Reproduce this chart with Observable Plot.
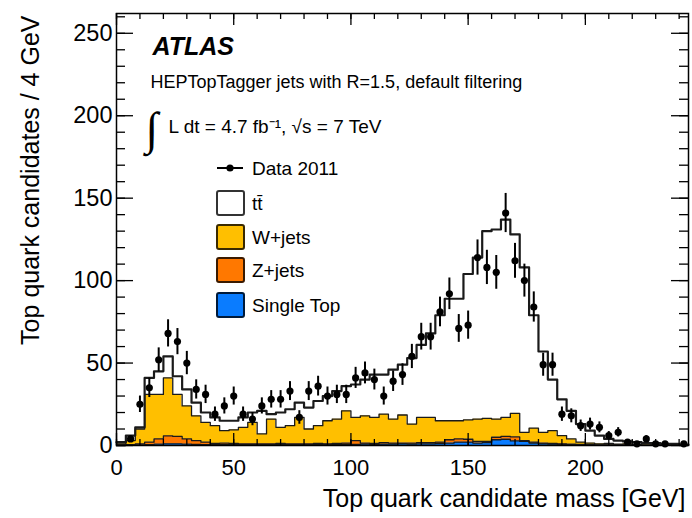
<!DOCTYPE html>
<html>
<head>
<meta charset="utf-8">
<script src="https://cdn.jsdelivr.net/npm/d3@7"></script>
<script src="https://cdn.jsdelivr.net/npm/@observablehq/plot@0.6"></script>
<style>
  html, body { margin: 0; padding: 0; background: #fff; }
  #wrap { position: relative; width: 692px; height: 518px; font-family: "Liberation Sans", Arial, sans-serif; }
  #legend { position: absolute; left: 0; top: 0; pointer-events: none; }
</style>
</head>
<body>
<div id="wrap"></div>
<script>
// Bin edges (GeV), 4 GeV bins
const binEdges = [0,4,8,12,16,20,24,28,32,36,40,44,48,52,56,60,64,68,72,76,80,84,88,92,96,100,
  104,108,112,116,120,124,128,132,136,140,144,148,152,156,160,164,168,172,176,180,184,188,192,196,200,
  204,208,212,216,220,224,228,232,236,240,244];

// Data 2011 (events per bin)
const data2011 = [0,4,25,35,52,68,63,50,34,31, 19,24,30,19,16,24,28,28,33,17,
  33,36,30,31,31,41,44,40,30,39, 43,54,66,66,81,92,71,73,114,108,
  105,141,112,100,84,49,49,19,18,12, 13,11,6,8,2,1,4,1,1,0,1];

// Stack contributions (bottom to top)
const singleTop = [0,0.1,0.3,0.5,0.8,1.0,1.0,0.8,0.6,0.5, 0.5,0.5,0.5,0.5,0.5,0.5,0.5,0.5,0.5,0.5,
  0.5,0.6,0.6,0.6,0.6,0.6,0.8,0.6,0.8,0.8, 1.0,0.8,1.0,1.0,1.2,1.5,2.0,2.0,1.5,1.8,
  3.5,3.8,2.8,2.5,1.5,1.0,0.8,0.6,0.5,0.3, 0.3,0.2,0.2,0.2,0.1,0.1,0.1,0.1,0.1,0.1,0.1];
const zJets = [0.3,0.4,0.7,1.5,3.2,4.8,4.5,3.2,2.4,1.5, 0.7,0.9,0.7,0.5,0.5,0.5,0.5,0.7,0.5,0.5,
  0.5,0.6,0.4,0.6,0.9,2.4,0.7,0.6,1.0,0.7, 0.5,0.7,0.8,0.8,0.8,2.0,2.0,1.8,1.0,0.7,
  1.5,1.7,2.4,0.5,0.5,0.5,0.4,0.4,0.3,0.3, 0.2,0.2,0.2,0.1,0.2,0.1,0.1,0.1,0.1,0.1,0.1];
const wJets = [0.7,2.5,9,29,27,35.2,25.5,20,15,12, 10.8,7.6,8.3,10,13,6,15,9.8,11,16,
  9,10.8,14,14.8,19.5,14,16.5,15.8,17.2,14.5, 17,11.5,15.2,15.2,13,11.5,11,11.7,13.5,14,
  11,11.5,14.3,5,8.5,6.5,7.8,5,3.2,1.4, 1.0,0.6,0.8,0.5,0.7,0.3,0.8,0.3,0.6,0.1,0.1];
const ttbar = [1,3,1,10,14,13,11,10,8,6, 5,6,5.5,6,6,14,3,9,10,9,
  13,15,15,17,15,20,22,26,24,30, 30.5,40,44,51,64,74,74,88.5,98,113.5,
  115,120,108.5,100,68.5,49,31,22,17,11, 7.5,5,2.8,2.2,1.5,1.5,0.5,1,0.2,0.7,0.2];

const processNames = ["Single Top", "Z+jets", "W+jets", "tt̄"];
const processColors = ["#0A7CFF", "#FF7800", "#FFBF00", "#FFFFFF"];

const xMajor = [0, 50, 100, 150, 200];
const xMinor = [0,10,20,30,40,50,60,70,80,90,100,110,120,130,140,150,160,170,180,190,200,210,220,230,240];
const yMajor = [0, 50, 100, 150, 200, 250];
const yMinor = [0,10,20,30,40,50,60,70,80,90,100,110,120,130,140,150,160,170,180,190,200,210,220,230,240,250,260];

// ---- build tables ----
const series = [singleTop, zJets, wJets, ttbar];
const stackRows = [];
series.forEach((vals, k) => {
  for (let i = 0; i < vals.length; i++) stackRows.push({x: binEdges[i], y: vals[i], process: processNames[k]});
  stackRows.push({x: binEdges[vals.length], y: vals[vals.length - 1], process: processNames[k]});
});
const dataRows = data2011.map((v, i) => ({x: (binEdges[i] + binEdges[i + 1]) / 2, v}))
  .filter(d => d.v > 0);

const W = 692, H = 518, mL = 116, mR = 4, mT = 13, mB = 73;
const iW = W - mL - mR, iH = H - mT - mB;
const font = "Liberation Sans, Arial, sans-serif";

const chart = Plot.plot({
  width: W, height: H,
  marginLeft: mL, marginRight: mR, marginTop: mT, marginBottom: mB,
  style: {fontFamily: font, background: "white", color: "black"},
  x: {domain: [0, 244]},
  y: {domain: [0, 262]},
  color: {domain: processNames, range: processColors},
  marks: [
    Plot.areaY(stackRows, {x: "x", y: "y", z: "process", fill: "process", curve: "step-after"}),
    Plot.lineY(stackRows, Plot.stackY2({x: "x", y: "y", z: "process", curve: "step-after",
      stroke: "#1a1a1a", strokeWidth: d => d.process === "tt̄" ? 2.2 : 1.3})),
    Plot.ruleX(dataRows, {x: "x", y1: d => d.v - Math.sqrt(d.v), y2: d => d.v + Math.sqrt(d.v), stroke: "black", strokeWidth: 2}),
    Plot.dot(dataRows, {x: "x", y: "v", r: 3.6, fill: "black", stroke: "none"}),
    // inward ticks
    Plot.tickX(xMinor, {x: d => d, insetTop: iH - 6, stroke: "black", strokeWidth: 1.3}),
    Plot.tickX(xMajor, {x: d => d, insetTop: iH - 12, stroke: "black", strokeWidth: 1.3}),
    Plot.tickX(xMinor, {x: d => d, insetBottom: iH - 6, stroke: "black", strokeWidth: 1.3}),
    Plot.tickX(xMajor, {x: d => d, insetBottom: iH - 12, stroke: "black", strokeWidth: 1.3}),
    Plot.tickY(yMinor, {y: d => d, insetRight: iW - 9, stroke: "black", strokeWidth: 1.3}),
    Plot.tickY(yMajor, {y: d => d, insetRight: iW - 17, stroke: "black", strokeWidth: 1.3}),
    Plot.tickY(yMinor, {y: d => d, insetLeft: iW - 9, stroke: "black", strokeWidth: 1.3}),
    Plot.tickY(yMajor, {y: d => d, insetLeft: iW - 17, stroke: "black", strokeWidth: 1.3}),
    Plot.frame({stroke: "black", strokeWidth: 1.5}),
    Plot.axisX({ticks: xMajor, tickSize: 0, tickPadding: 14, fontSize: 22, label: null}),
    Plot.axisY({ticks: yMajor, tickSize: 0, tickPadding: 4, fontSize: 23.5, label: null}),
    // axis titles
    Plot.text(["Top quark candidate mass [GeV]"], {text: d => d, frameAnchor: "bottom-right", dx: -3, dy: 53,
      textAnchor: "end", lineAnchor: "middle", fontSize: 25}),
    Plot.text(["Top quark candidates / 4 GeV"], {text: d => d, frameAnchor: "top-left", dx: -86, dy: 2,
      rotate: -90, textAnchor: "end", lineAnchor: "middle", fontSize: 25}),
    // annotations
    Plot.text(["ATLAS"], {text: d => d, frameAnchor: "top-left", dx: 36, dy: 33, textAnchor: "start",
      lineAnchor: "middle", fontSize: 25, fontWeight: "bold", fontStyle: "italic"}),
    Plot.text(["HEPTopTagger jets with R=1.5, default filtering"], {text: d => d, frameAnchor: "top-left",
      dx: 34, dy: 69, textAnchor: "start", lineAnchor: "middle", fontSize: 18}),
    Plot.text(["∫"], {text: d => d, frameAnchor: "top-left", dx: 29, dy: 116, textAnchor: "start",
      lineAnchor: "middle", fontSize: 46, fontFamily: "DejaVu Sans", fontWeight: 200}),
    Plot.text(["L dt = 4.7 fb⁻¹, √s = 7 TeV"], {text: d => d, frameAnchor: "top-left",
      dx: 52, dy: 113, textAnchor: "start", lineAnchor: "middle", fontSize: 19})
  ]
});

const wrap = document.getElementById("wrap");
wrap.appendChild(chart);

// Legend overlay
const legendItems = [
  {label: "Data 2011", kind: "data"},
  {label: "tt̄", kind: "box", fill: "#FFFFFF", stroke: "#333"},
  {label: "W+jets", kind: "box", fill: "#FFBF00", stroke: "#3a2a00"},
  {label: "Z+jets", kind: "box", fill: "#FF7800", stroke: "#3a1a00"},
  {label: "Single Top", kind: "box", fill: "#0A7CFF", stroke: "#001a3a"}
];
const lg = d3.select(wrap).append("svg").attr("id", "legend").attr("width", W).attr("height", H);
const rowY = [168, 203, 237, 270, 305];
legendItems.forEach((it, i) => {
  const cy = rowY[i];
  if (it.kind === "data") {
    lg.append("line").attr("x1", 217).attr("x2", 243).attr("y1", cy).attr("y2", cy)
      .attr("stroke", "black").attr("stroke-width", 2);
    lg.append("circle").attr("cx", 230).attr("cy", cy).attr("r", 3.6).attr("fill", "black");
  } else {
    lg.append("rect").attr("x", 217).attr("y", cy - 12).attr("width", 27).attr("height", 24)
      .attr("rx", 2).attr("fill", it.fill).attr("stroke", it.stroke).attr("stroke-width", 2);
  }
  lg.append("text").attr("x", 252).attr("y", cy).attr("dy", "0.35em")
    .attr("font-family", font).attr("font-size", 19).attr("fill", "black").text(it.label);
});
</script>
</body>
</html>
